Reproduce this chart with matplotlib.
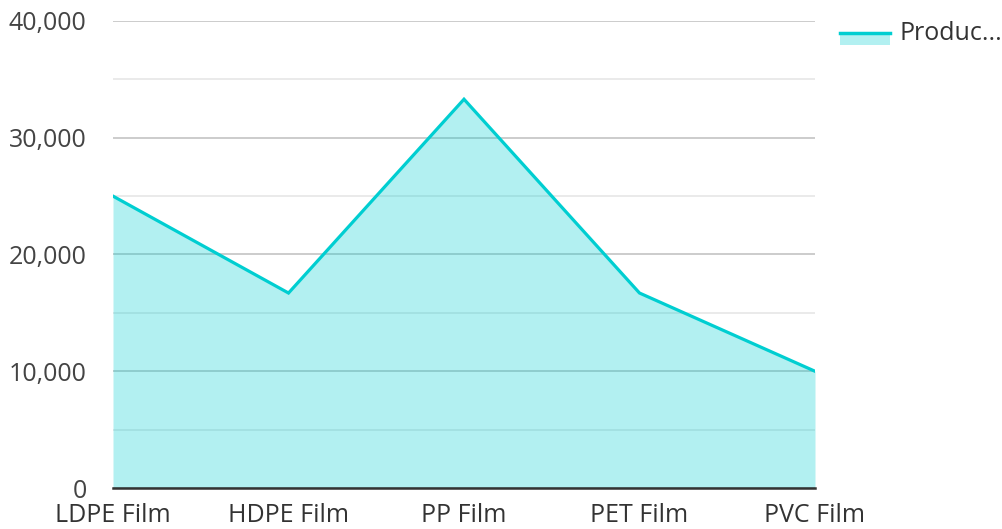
import matplotlib
matplotlib.use("Agg")
import matplotlib.pyplot as plt
from matplotlib.patches import Rectangle
from matplotlib.lines import Line2D
from matplotlib.ticker import MultipleLocator, FuncFormatter

categories = ["LDPE Film", "HDPE Film", "PP Film", "PET Film", "PVC Film"]
values = [25000, 16700, 33300, 16700, 10000]
series_name = "Produc..."

plt.rcParams['font.family'] = ['Open Sans', 'DejaVu Sans']

W, H = 1002, 529
fig = plt.figure(figsize=(W / 100, H / 100), dpi=100)
ax = fig.add_axes([113 / W, 1 - 488 / H, (815 - 113) / W, (488 - 21) / H])

line_color = "#00CED1"
x = list(range(len(categories)))
ax.fill_between(x, values, 0, color=line_color, alpha=0.3, linewidth=0, zorder=1)
ax.plot(x, values, color=line_color, linewidth=2.3, zorder=3, solid_joinstyle='miter')

ax.set_xlim(0, len(categories) - 1)
ax.set_ylim(0, 40000)
ax.yaxis.set_major_locator(MultipleLocator(10000))
ax.yaxis.set_minor_locator(MultipleLocator(5000))
ax.yaxis.set_major_formatter(FuncFormatter(lambda v, p: f"{int(v):,}"))
ax.set_axisbelow(True)
ax.grid(axis='y', which='major', color='#c4c4c4', linewidth=1.2)
ax.grid(axis='y', which='minor', color='#e6e6e6', linewidth=1.2)
ax.grid(axis='x', visible=False)
for s in ['top', 'right', 'left']:
    ax.spines[s].set_visible(False)
ax.spines['bottom'].set_color('#333333')
ax.spines['bottom'].set_linewidth(1.8)
ax.spines['bottom'].set_zorder(4)

ax.set_xticks(x)
ax.set_xticklabels(categories)
ax.tick_params(axis='x', length=0, pad=11, labelsize=18, labelcolor='#333333')
ax.tick_params(axis='y', which='both', length=0, pad=19, labelsize=18, labelcolor='#444444')

# Legend
fig.add_artist(Rectangle((840 / W, 1 - 45 / H), 50 / W, 12 / H, transform=fig.transFigure,
                         facecolor=line_color, alpha=0.3, edgecolor='none'))
fig.add_artist(Line2D([840 / W, 890 / W], [1 - 33 / H, 1 - 33 / H], transform=fig.transFigure,
                      color=line_color, linewidth=2.5))
fig.text(900 / W, 1 - 33 / H, series_name, fontsize=18, color='#333333', va='center', ha='left')

fig.savefig("out.png", dpi=100)
